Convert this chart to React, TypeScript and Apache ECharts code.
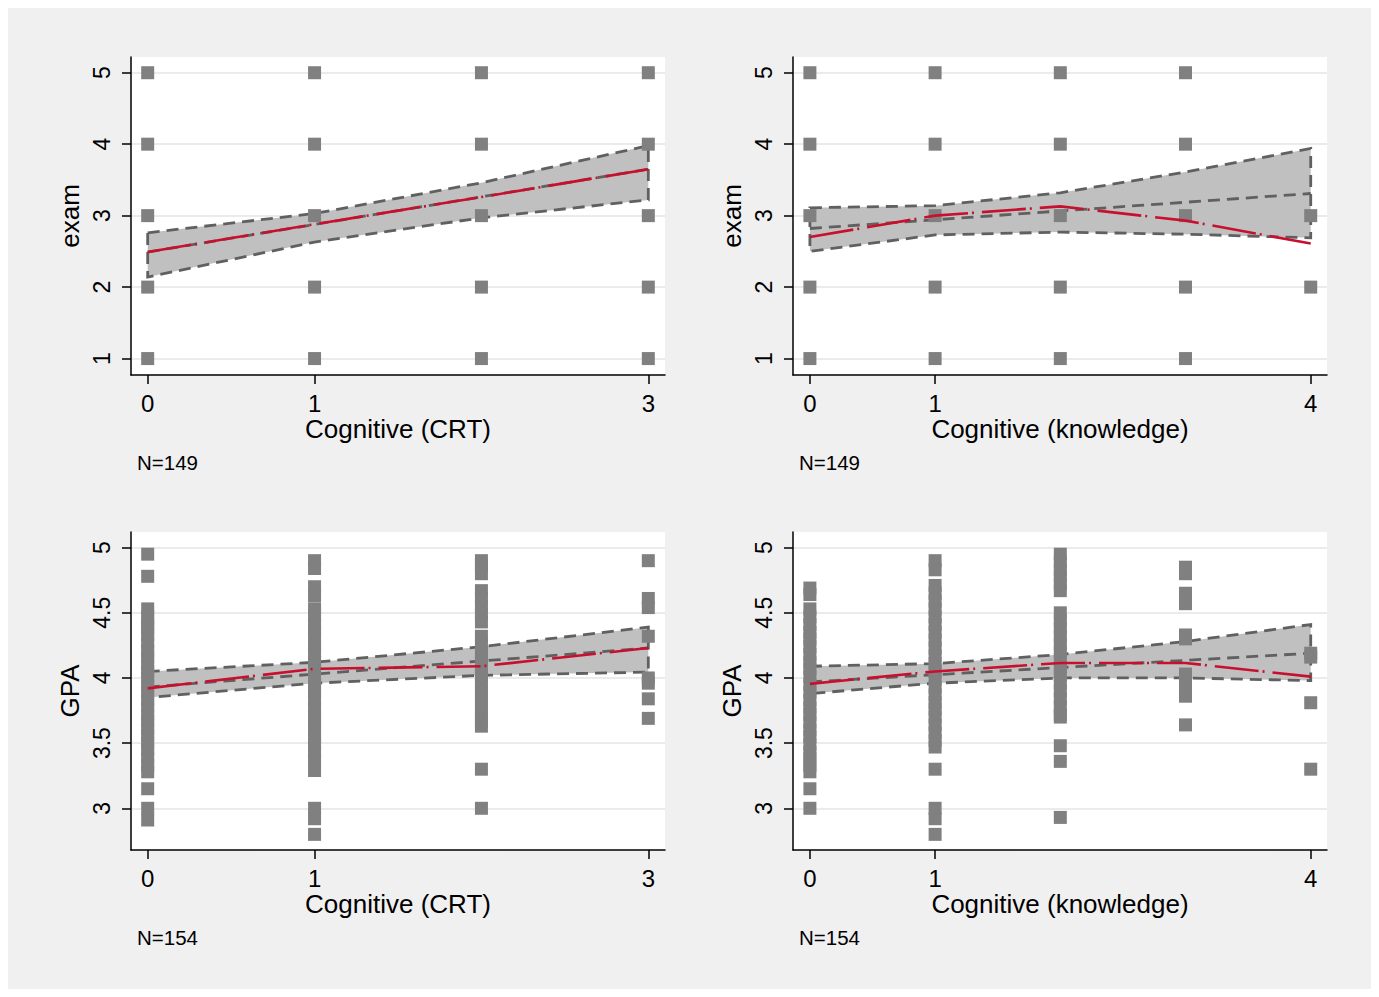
import { useEffect, useRef } from "react";
import * as echarts from "echarts";

const FONT = "'Liberation Sans', Arial, Helvetica, sans-serif";

// ---------- axis ticks ----------
const examTicks = [1, 2, 3, 4, 5];
const gpaTicks = [3, 3.5, 4, 4.5, 5];
const crtTicks = [0, 1, 3];
const knowTicks = [0, 1, 4];

// ---------- panel 1: exam vs Cognitive (CRT) ----------
const examCrtPoints = [
  [0, 5], [0, 4], [0, 3], [0, 2], [0, 1],
  [1, 5], [1, 4], [1, 3], [1, 2], [1, 1],
  [2, 5], [2, 4], [2, 3], [2, 2], [2, 1],
  [3, 5], [3, 4], [3, 3], [3, 2], [3, 1],
];
const examCrtBandX = [0, 1, 2, 3];
const examCrtUpper = [2.76, 3.03, 3.46, 3.98];
const examCrtLower = [2.14, 2.63, 2.97, 3.22];
const examCrtLinX = [0, 3];
const examCrtLinY = [2.49, 3.65];
const examCrtFitY = [2.49, 2.88, 3.26, 3.65];

// ---------- panel 2: exam vs Cognitive (knowledge) ----------
const examKnowPoints = [
  [0, 5], [0, 4], [0, 3], [0, 2], [0, 1],
  [1, 5], [1, 4], [1, 3], [1, 2], [1, 1],
  [2, 5], [2, 4], [2, 3], [2, 2], [2, 1],
  [3, 5], [3, 4], [3, 3], [3, 2], [3, 1],
  [4, 3], [4, 2],
];
const examKnowBandX = [0, 1, 2, 3, 4];
const examKnowUpper = [3.11, 3.14, 3.32, 3.61, 3.94];
const examKnowLower = [2.5, 2.73, 2.77, 2.74, 2.69];
const examKnowLinX = [0, 4];
const examKnowLinY = [2.82, 3.31];
const examKnowFitY = [2.7, 3.0, 3.13, 2.93, 2.61];

// ---------- panel 3: GPA vs Cognitive (CRT) ----------
const gpaCrt0 = [4.95, 4.78, 4.53, 4.47, 4.42, 4.38, 4.33, 4.27, 4.21, 4.16, 4.1, 4.05, 4.0, 3.94, 3.89, 3.83, 3.78, 3.72, 3.67, 3.61, 3.56, 3.5, 3.45, 3.39, 3.33, 3.28, 3.15, 3.0, 2.91];
const gpaCrt1 = [4.9, 4.84, 4.7, 4.63, 4.53, 4.48, 4.41, 4.36, 4.3, 4.24, 4.19, 4.12, 4.07, 4.0, 3.95, 3.9, 3.84, 3.77, 3.71, 3.66, 3.6, 3.54, 3.49, 3.43, 3.37, 3.29, 3.0, 2.92, 2.8];
const gpaCrt2 = [4.9, 4.86, 4.8, 4.67, 4.61, 4.55, 4.49, 4.43, 4.32, 4.26, 4.2, 4.14, 4.08, 4.02, 3.96, 3.9, 3.84, 3.78, 3.72, 3.67, 3.63, 3.3, 3.0];
const gpaCrt3 = [4.9, 4.61, 4.54, 4.32, 4.0, 3.96, 3.84, 3.69];
const gpaCrtBandX = [0, 1, 2, 3];
const gpaCrtUpper = [4.05, 4.12, 4.24, 4.39];
const gpaCrtLower = [3.85, 3.96, 4.02, 4.045];
const gpaCrtLinX = [0, 3];
const gpaCrtLinY = [3.93, 4.23];
const gpaCrtFitY = [3.92, 4.07, 4.09, 4.23];

// ---------- panel 4: GPA vs Cognitive (knowledge) ----------
const gpaKnow0 = [4.69, 4.64, 4.53, 4.47, 4.41, 4.35, 4.3, 4.24, 4.18, 4.12, 4.07, 4.01, 3.95, 3.89, 3.83, 3.77, 3.72, 3.66, 3.6, 3.55, 3.49, 3.43, 3.38, 3.33, 3.28, 3.15, 3.0];
const gpaKnow1 = [4.9, 4.83, 4.71, 4.65, 4.59, 4.53, 4.47, 4.41, 4.35, 4.29, 4.23, 4.17, 4.11, 4.05, 3.99, 3.93, 3.87, 3.81, 3.76, 3.7, 3.64, 3.58, 3.52, 3.47, 3.3, 3.0, 2.92, 2.8];
const gpaKnow2 = [4.95, 4.89, 4.83, 4.78, 4.72, 4.67, 4.5, 4.44, 4.38, 4.32, 4.26, 4.2, 4.14, 4.08, 4.02, 3.96, 3.9, 3.84, 3.78, 3.72, 3.7, 3.48, 3.36, 2.93];
const gpaKnow3 = [4.85, 4.8, 4.65, 4.57, 4.33, 4.3, 4.03, 3.97, 3.92, 3.86, 3.64];
const gpaKnow4 = [4.19, 4.16, 3.81, 3.3];
const gpaKnowBandX = [0, 1, 2, 3, 4];
const gpaKnowUpper = [4.09, 4.11, 4.18, 4.28, 4.41];
const gpaKnowLower = [3.88, 3.96, 4.0, 4.0, 3.98];
const gpaKnowLinX = [0, 4];
const gpaKnowLinY = [3.97, 4.19];
const gpaKnowFitY = [3.955, 4.05, 4.115, 4.115, 4.01];

// ---------- labels ----------
const yNames = ["exam", "exam", "GPA", "GPA"];
const xNames = ["Cognitive (CRT)", "Cognitive (knowledge)", "Cognitive (CRT)", "Cognitive (knowledge)"];
const nLabels = ["N=149", "N=149", "N=154", "N=154"];

const BAND_FILL = "#c0c0c0";
const DARK = "#606060";
const POINT = "#808080";
const RED = "#c8102e";

function columns(cols: number[][]) {
  const out: number[][] = [];
  cols.forEach((vals, x) => vals.forEach((v) => out.push([x, v])));
  return out;
}

function panelSeries(
  idx: number,
  points: number[][],
  bandX: number[],
  lower: number[],
  upper: number[],
  linX: number[],
  linY: number[],
  fitY: number[]
) {
  return [
    {
      type: "custom",
      xAxisIndex: idx,
      yAxisIndex: idx,
      z: 1,
      silent: true,
      data: bandX.map((x, i) => [x, lower[i], upper[i]]),
      encode: { x: 0, y: [1, 2] },
      renderItem: (params: any, api: any) => {
        if (params.dataIndex !== 0) return null;
        const pts: number[][] = [];
        bandX.forEach((x, i) => pts.push(api.coord([x, upper[i]])));
        for (let i = bandX.length - 1; i >= 0; i--) pts.push(api.coord([bandX[i], lower[i]]));
        return {
          type: "polygon",
          shape: { points: pts },
          style: { fill: BAND_FILL, stroke: DARK, lineWidth: 2.8, lineDash: [12, 7] },
        };
      },
    },
    {
      type: "line",
      xAxisIndex: idx,
      yAxisIndex: idx,
      z: 2,
      silent: true,
      showSymbol: false,
      data: linX.map((x, i) => [x, linY[i]]),
      lineStyle: { color: DARK, width: 2.8, type: [12, 7] },
    },
    {
      type: "scatter",
      xAxisIndex: idx,
      yAxisIndex: idx,
      z: 3,
      silent: true,
      symbol: "rect",
      symbolSize: 13,
      itemStyle: { color: POINT, opacity: 1 },
      data: points,
    },
    {
      type: "line",
      xAxisIndex: idx,
      yAxisIndex: idx,
      z: 4,
      silent: true,
      showSymbol: false,
      data: bandX.map((x, i) => [x, fitY[i]]),
      lineStyle: { color: RED, width: 2.6, type: [44, 4, 2, 8] },
    },
  ];
}

export default function App() {
  const ref = useRef<HTMLDivElement>(null);

  useEffect(() => {
    if (!ref.current) return;
    const chart = echarts.init(ref.current, null, { renderer: "svg" });

    const lefts = [123, 785, 123, 785];
    const tops = [49, 49, 524, 524];
    const xMins = [-0.1, -0.135, -0.1, -0.135];
    const xMaxs = [3.1, 4.13, 3.1, 4.13];
    const xTickSets = [crtTicks, knowTicks, crtTicks, knowTicks];
    const yMins = [0.77, 0.77, 2.68, 2.68];
    const yMaxs = [5.22, 5.22, 5.12, 5.12];
    const yTickSets = [examTicks, examTicks, gpaTicks, gpaTicks];

    const grids = lefts.map((l, i) => ({
      left: l,
      top: tops[i],
      width: 534,
      height: 318,
      show: true,
      backgroundColor: "#ffffff",
      borderWidth: 0,
      containLabel: false,
    }));

    const xAxes = lefts.map((_, i) => ({
      type: "value",
      gridIndex: i,
      min: xMins[i],
      max: xMaxs[i],
      name: xNames[i],
      nameLocation: "middle",
      nameGap: 41,
      nameTextStyle: { fontFamily: FONT, fontSize: 26, color: "#000", verticalAlign: "top" },
      axisLine: { show: true, onZero: false, lineStyle: { color: "#000", width: 1.5 } },
      axisTick: { show: true, length: 9, customValues: xTickSets[i], lineStyle: { color: "#000", width: 1.5 } },
      axisLabel: { customValues: xTickSets[i], margin: 16, fontFamily: FONT, fontSize: 24, color: "#000" },
      splitLine: { show: false },
    }));

    const yAxes = lefts.map((_, i) => ({
      type: "value",
      gridIndex: i,
      min: yMins[i],
      max: yMaxs[i],
      name: yNames[i],
      nameLocation: "middle",
      nameGap: 48,
      nameRotate: 90,
      nameTextStyle: { fontFamily: FONT, fontSize: 26, color: "#000" },
      axisLine: { show: true, onZero: false, lineStyle: { color: "#000", width: 1.5 } },
      axisTick: { show: true, length: 9, customValues: yTickSets[i], lineStyle: { color: "#000", width: 1.5 } },
      axisLabel: { customValues: yTickSets[i], rotate: 90, margin: 18, fontFamily: FONT, fontSize: 23, color: "#000" },
      splitLine: { show: true, lineStyle: { color: "#ebebeb", width: 2 } },
    }));

    const series = [
      ...panelSeries(0, examCrtPoints, examCrtBandX, examCrtLower, examCrtUpper, examCrtLinX, examCrtLinY, examCrtFitY),
      ...panelSeries(1, examKnowPoints, examKnowBandX, examKnowLower, examKnowUpper, examKnowLinX, examKnowLinY, examKnowFitY),
      ...panelSeries(2, columns([gpaCrt0, gpaCrt1, gpaCrt2, gpaCrt3]), gpaCrtBandX, gpaCrtLower, gpaCrtUpper, gpaCrtLinX, gpaCrtLinY, gpaCrtFitY),
      ...panelSeries(3, columns([gpaKnow0, gpaKnow1, gpaKnow2, gpaKnow3, gpaKnow4]), gpaKnowBandX, gpaKnowLower, gpaKnowUpper, gpaKnowLinX, gpaKnowLinY, gpaKnowFitY),
    ];

    const graphic = nLabels.map((t, i) => ({
      type: "text",
      left: lefts[i] + 6,
      top: tops[i] + 395,
      style: { text: t, fontFamily: FONT, fontSize: 20.5, fill: "#000" },
    }));

    chart.setOption({
      animation: false,
      backgroundColor: "#f0f0f0",
      grid: grids,
      xAxis: xAxes,
      yAxis: yAxes,
      series,
      graphic,
    });

    return () => chart.dispose();
  }, []);

  return <div ref={ref} style={{ width: 1363, height: 981 }} />;
}
